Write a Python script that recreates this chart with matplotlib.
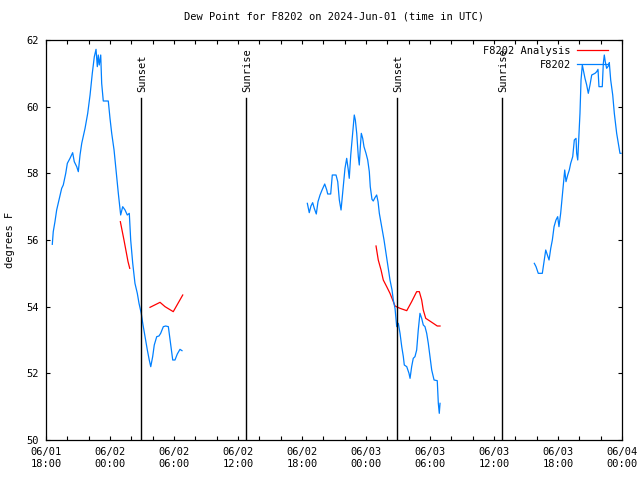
import numpy as np
import matplotlib
matplotlib.use("Agg")
import matplotlib.pyplot as plt
from matplotlib.ticker import MultipleLocator

nan = np.nan

# hours after 2024-06-01 18:00 UTC
obs_hours = [
    0.59, 0.68, 0.84, 1.00, 1.22, 1.47, 1.62, 1.85, 2.00, 2.25, 2.50, 2.65, 2.88, 3.03,
    3.19, 3.35, 3.66, 3.91, 4.13, 4.34, 4.53, 4.69, 4.81, 4.90, 4.99, 5.13, 5.22, 5.37,
    5.84, 6.00, 6.16, 6.38, 6.56, 6.78, 7.00, 7.19, 7.41, 7.62, 7.81, 7.94, 8.13, 8.34,
    8.56, 8.72, 8.93, 9.07, 9.28, 9.50, 9.68, 9.82, 10.00, 10.15, 10.38, 10.59, 10.75,
    11.00, 11.22, 11.47, 11.63, 11.88, 12.09, 12.31, 12.56, 12.75,
    nan,
    24.50, 24.68, 24.84, 25.00, 25.15, 25.34, 25.50, 25.69, 25.88, 26.13, 26.32, 26.41,
    26.69, 26.84, 27.19, 27.35, 27.50, 27.66, 27.82, 28.03, 28.19, 28.34, 28.43, 28.57,
    28.75, 28.90, 29.00, 29.13, 29.28, 29.37, 29.47, 29.56, 29.69, 29.81, 30.00, 30.16,
    30.31, 30.40, 30.56, 30.68, 30.84, 31.00, 31.13, 31.25, 31.47, 31.69, 31.88, 32.06,
    32.25, 32.44, 32.56, 32.72, 32.88, 33.03, 33.19, 33.35, 33.50, 33.59, 33.82, 34.03,
    34.13, 34.28, 34.43, 34.59, 34.75, 34.90, 35.06, 35.22, 35.37, 35.53, 35.69, 35.84,
    36.00, 36.16, 36.38, 36.68, 36.78, 36.87, 36.94,
    nan,
    45.78, 45.94, 46.15, 46.53, 46.69, 46.85, 47.00, 47.16, 47.32, 47.47, 47.63, 47.81,
    47.97, 48.09, 48.25, 48.40, 48.53, 48.63, 48.75, 48.91, 49.06, 49.19, 49.38, 49.53,
    49.69, 49.75, 49.85, 49.94, 50.06, 50.16, 50.28, 50.37, 50.53, 50.69, 50.84, 51.00,
    51.16, 51.47, 51.63, 51.75, 51.84, 52.15, 52.25, 52.34, 52.43, 52.56, 52.72, 52.81,
    52.94, 53.13, 53.28, 53.50, 53.66, 53.81, 53.91,
]
obs_dewpt = [
    55.87, 56.25, 56.55, 56.9, 57.2, 57.55, 57.65, 58.0, 58.3, 58.45, 58.62, 58.35, 58.2, 58.05,
    58.55, 58.9, 59.35, 59.8, 60.35, 61.0, 61.5, 61.72, 61.2, 61.55, 61.25, 61.55, 60.7, 60.17,
    60.17, 59.65, 59.2, 58.7, 58.1, 57.4, 56.75, 57.0, 56.9, 56.75, 56.8, 56.0, 55.3, 54.7,
    54.4, 54.1, 53.8, 53.5, 53.1, 52.7, 52.4, 52.2, 52.5, 52.85, 53.1, 53.12, 53.2,
    53.4, 53.42, 53.4, 53.0, 52.4, 52.4, 52.58, 52.72, 52.68,
    nan,
    57.1, 56.82, 57.02, 57.12, 56.95, 56.78, 57.15, 57.35, 57.5, 57.68, 57.5, 57.38,
    57.38, 57.95, 57.95, 57.75, 57.2, 56.9, 57.45, 58.15, 58.45, 58.1, 57.85, 58.55,
    59.2, 59.75, 59.6, 59.2, 58.5, 58.25, 58.8, 59.2, 59.05, 58.8, 58.6, 58.4,
    58.05, 57.6, 57.22, 57.17, 57.27, 57.35, 57.15, 56.8, 56.4, 56.0, 55.6, 55.2,
    54.8, 54.5, 54.2, 53.95, 53.4, 53.5, 53.2, 52.8, 52.5, 52.25, 52.2, 52.0,
    51.85, 52.2, 52.45, 52.5, 52.7, 53.3, 53.8, 53.65, 53.45, 53.4, 53.2, 52.9,
    52.5, 52.1, 51.8, 51.78, 51.1, 50.8, 51.1,
    nan,
    55.3, 55.2, 55.0, 55.0, 55.35, 55.7, 55.55, 55.4, 55.75, 56.0, 56.4, 56.6,
    56.7, 56.4, 56.8, 57.3, 57.7, 58.1, 57.75, 57.95, 58.1, 58.3, 58.5, 59.0,
    59.05, 58.6, 58.4, 59.0, 59.8, 60.8, 61.25, 61.1, 60.85, 60.65, 60.4, 60.65,
    60.95, 61.0, 61.05, 61.12, 60.6, 60.6, 61.3, 61.55, 61.35, 61.15, 61.22, 61.32,
    60.8, 60.35, 59.8, 59.2, 58.9, 58.6, 58.6,
]

ana_hours = [
    6.97, 7.31, 7.69, 7.85,
    nan,
    9.75, 10.69, 11.16, 11.93, 12.82,
    nan,
    30.94, 31.15, 31.41, 31.62, 31.94, 32.25, 32.50, 32.72, 33.19, 33.82, 34.28, 34.75,
    35.00, 35.22, 35.37, 35.60, 35.84, 36.31, 36.68, 36.94,
]
ana_dewpt = [
    56.55, 56.0, 55.35, 55.15,
    nan,
    53.98, 54.13, 54.0, 53.85, 54.35,
    nan,
    55.82, 55.4, 55.1, 54.8, 54.6, 54.4, 54.2, 54.02, 53.95, 53.88, 54.15, 54.45,
    54.45, 54.2, 53.9, 53.65, 53.6, 53.5, 53.42, 53.42,
]

sun_hours = [8.91, 18.75, 32.91, 42.75]
sun_names = ["Sunset", "Sunrise", "Sunset", "Sunrise"]

tick_hours = [0, 6, 12, 18, 24, 30, 36, 42, 48, 54]
tick_labels = ["06/01\n18:00", "06/02\n00:00", "06/02\n06:00", "06/02\n12:00",
               "06/02\n18:00", "06/03\n00:00", "06/03\n06:00", "06/03\n12:00",
               "06/03\n18:00", "06/04\n00:00"]

plt.rcParams["font.family"] = ["DejaVu Sans Mono"]
plt.rcParams["font.size"] = 7.5

fig = plt.figure(figsize=(6.4, 4.8), dpi=100)
ax = fig.add_axes([46 / 640, 40 / 480, 576 / 640, 400 / 480])

(l_ana,) = ax.plot(ana_hours, ana_dewpt, color="#ff0000", lw=0.9, label="F8202 Analysis")
(l_obs,) = ax.plot(obs_hours, obs_dewpt, color="#0080ff", lw=0.9, label="F8202")

for h, name in zip(sun_hours, sun_names):
    ax.plot([h, h], [50, 60.25], color="black", lw=1.0)
    ax.text(h + 0.15, 60.45, name, rotation=90, ha="center", va="bottom")

ax.set_xlim(0, 54)
ax.set_ylim(50, 62)
ax.set_xticks(tick_hours)
ax.set_xticklabels(tick_labels)
ax.xaxis.set_minor_locator(MultipleLocator(2))
ax.yaxis.set_major_locator(MultipleLocator(2))
ax.tick_params(which="both", direction="in", top=True, right=True, length=3.2, width=0.8)
ax.tick_params(axis="x", pad=5)
ax.tick_params(axis="y", pad=5)
for s in ax.spines.values():
    s.set_linewidth(0.9)

ax.set_ylabel("degrees F", labelpad=8)
ax.set_title("Dew Point for F8202 on 2024-Jun-01 (time in UTC)", fontsize=7.5, pad=15)

ax.legend(handles=[l_ana, l_obs], loc="upper right", bbox_to_anchor=(0.98, 0.99),
          frameon=False, markerfirst=False, handlelength=3.0, handletextpad=0.6,
          borderaxespad=0.1, borderpad=0.1, labelspacing=0.38)

fig.savefig("out.png", dpi=100)
